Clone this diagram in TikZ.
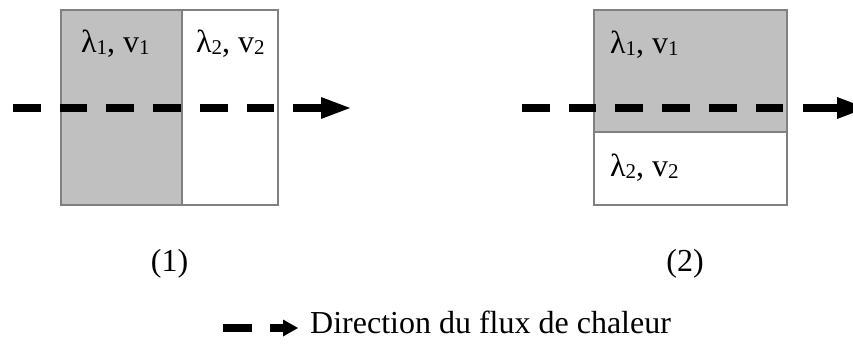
\documentclass[tikz,border=0pt]{standalone}
\usepackage{fontspec}
\setmainfont{Liberation Serif}
\usetikzlibrary{arrows.meta}
\definecolor{boxgray}{RGB}{192,192,192}
\definecolor{edgegray}{RGB}{128,128,128}
\newcommand{\sbx}[1]{\raisebox{-2pt}{\fontsize{21}{21}\selectfont #1}}
\begin{document}
\begin{tikzpicture}[x=1pt,y=-1pt,
  layer/.style={draw=edgegray,line width=2.2pt},
  flux/.style={line width=7.5pt,dash pattern=on 27.7pt off 19pt},
  fluxhead/.style={line width=7.5pt,-{Triangle[length=29pt,width=22pt,line width=0pt]}},
  lbl/.style={font=\fontsize{32}{36}\selectfont,inner sep=0pt,anchor=base west},
  caselabel/.style={font=\fontsize{32}{36}\selectfont,inner sep=0pt,anchor=base}]
\useasboundingbox (0,0) rectangle (853,347);
\clip (0,0) rectangle (853,347);
% ---------- case (1)
\fill[boxgray] (61,10) rectangle (182,205);
\fill[white] (182,10) rectangle (278,205);
\draw[layer] (61,10) rectangle (278,205);
\draw[layer] (182,10) -- (182,205);
\node[lbl] (a1) at (81,53) {λ\sbx{1}, v\sbx{1}};
\node[lbl] (a2) at (196,53) {λ\sbx{2}, v\sbx{2}};
\coordinate (s1) at (13,108);
\coordinate (m1) at (274,108);
\coordinate (h1) at (293,108);
\coordinate (e1) at (350,108);
\draw[flux] (s1) -- (m1);
\draw[fluxhead] (h1) -- (e1);
\node[caselabel] (c1) at (169.5,271) {(1)};
% ---------- case (2)
\fill[boxgray] (594,10) rectangle (787,132);
\fill[white] (594,132) rectangle (787,205);
\draw[layer] (594,10) rectangle (787,205);
\draw[layer] (594,132) -- (787,132);
\node[lbl] (b1) at (610,54) {λ\sbx{1}, v\sbx{1}};
\node[lbl] (b2) at (610,177) {λ\sbx{2}, v\sbx{2}};
\coordinate (s2) at (522,108);
\coordinate (m2) at (783,108);
\coordinate (h2) at (803,108);
\coordinate (e2) at (866,108);
\draw[flux] (s2) -- (m2);
\draw[fluxhead] (h2) -- (e2);
\node[caselabel] (c2) at (685,271) {(2)};
% ---------- legend
\coordinate (l1) at (223,328);
\coordinate (l2) at (252,328);
\coordinate (l3) at (270,328);
\coordinate (l4) at (298,328);
\draw[line width=7.5pt] (l1) -- (l2);
\draw[line width=7.5pt,-{Triangle[length=15pt,width=17pt,line width=0pt]}] (l3) -- (l4);
\node[lbl] (leg) at (310,333) {Direction du flux de chaleur};
\end{tikzpicture}
\end{document}
